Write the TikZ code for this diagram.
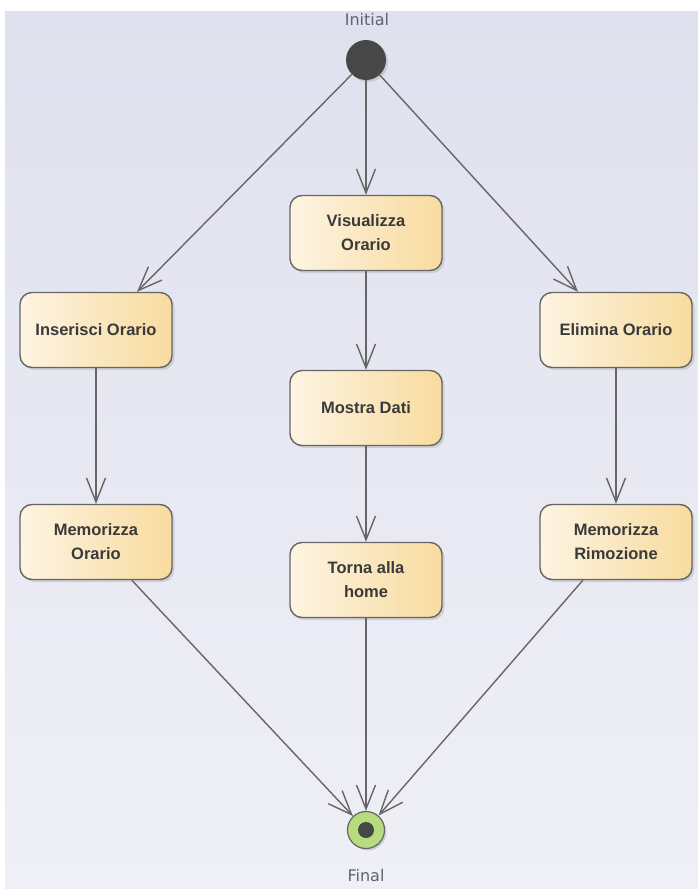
\documentclass[tikz,border=0pt]{standalone}
\usepackage{fontspec}
\setmainfont{Liberation Sans}
\newfontfamily\tagfont{DejaVu Sans}
\usetikzlibrary{arrows.meta,shadows,calc}
\definecolor{bgtop}{HTML}{DFE1EE}
\definecolor{bgbot}{HTML}{EFEFF6}
\definecolor{boxl}{HTML}{FDF4E2}
\definecolor{boxr}{HTML}{F8DB9F}
\definecolor{edgecol}{HTML}{666666}
\definecolor{txt}{HTML}{3A3A3A}
\definecolor{lbl}{HTML}{5E6470}
\definecolor{finalg}{HTML}{B7DC7E}
\tikzset{
  action/.style={draw=edgecol, line width=1.4pt, rounded corners=12pt,
    minimum width=152pt, minimum height=75pt, left color=boxl, right color=boxr,
    font=\fontsize{16.5}{24}\selectfont\bfseries, text=txt, align=center,
    drop shadow={shadow xshift=2.5pt, shadow yshift=-2.5pt, fill=black!25, opacity=0.6}},
  flow/.style={draw=edgecol, line width=1.4pt, -{Straight Barb[length=24pt,width=19pt,line width=1.4pt]}},
  tag/.style={font=\tagfont\fontsize{16}{18}\selectfont, text=lbl}
}
\begin{document}
\begin{tikzpicture}[x=1pt,y=-1pt]
  \useasboundingbox (0,0) rectangle (698,889);
  \fill[white] (0,0) rectangle (698,889);
  \shade[top color=bgtop, bottom color=bgbot] (5,11) rectangle (698,889);

  % start and end states
  \node[circle, fill=black!72, minimum size=40pt, inner sep=0pt,
        drop shadow={shadow xshift=2pt, shadow yshift=-2pt, fill=black!30}] (init) at (366,60) {};
  \node[tag] (initlbl) at (367,20) {Initial};
  \node[circle, draw=black!60, line width=1.2pt, fill=finalg, minimum size=37pt, inner sep=0pt,
        drop shadow={shadow xshift=2pt, shadow yshift=-2pt, fill=black!30}] (fin) at (366,830) {};
  \node[circle, fill=black!72, minimum size=16pt, inner sep=0pt] (finin) at (366,830) {};
  \node[tag] (finlbl) at (366,876) {Final};

  % actions
  \node[action] (vis) at (366,233) {Visualizza\\Orario};
  \node[action] (ins) at (96,330) {Inserisci Orario};
  \node[action] (eli) at (616,330) {Elimina Orario};
  \node[action] (mos) at (366,408) {Mostra Dati};
  \node[action] (mor) at (96,542) {Memorizza\\Orario};
  \node[action] (tor) at (366,580) {Torna alla\\home};
  \node[action] (mri) at (616,542) {Memorizza\\Rimozione};

  % control flows
  \draw[flow] (init) -- ([xshift=41pt]ins.north);
  \draw[flow] (init) -- (vis);
  \draw[flow] (init) -- ([xshift=-38pt]eli.north);
  \draw[flow] (ins) -- (mor);
  \draw[flow] (vis) -- (mos);
  \draw[flow] (mos) -- (tor);
  \draw[flow] (eli) -- (mri);
  \draw[flow] (mor) -- (fin);
  \draw[flow] (tor) -- (fin);
  \draw[flow] (mri) -- (fin);
\end{tikzpicture}
\end{document}
